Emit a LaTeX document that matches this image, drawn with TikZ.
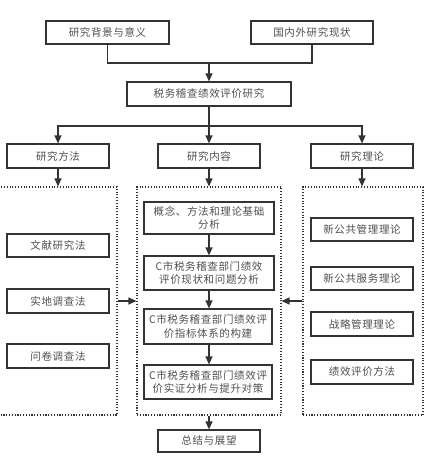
\documentclass[tikz,border=0pt]{standalone}
\usepackage{fontspec}
\setmainfont[LetterSpace=6]{Noto Sans CJK SC}
\usetikzlibrary{arrows.meta}
\definecolor{ln}{HTML}{333333}
\definecolor{tx}{HTML}{505050}
\tikzset{
  box/.style={draw=ln, line width=1.2pt, fill=white, text=tx, inner sep=0pt, align=center,
    font=\fontsize{10.5}{13.5}\selectfont},
  panel/.style={draw=ln, line width=1.1pt, dash pattern=on 1.1pt off 1.7pt, inner sep=0pt},
  link/.style={draw=ln, line width=1.2pt},
  arr/.style={link, -{Triangle[length=8pt,width=7pt]}}
}
\begin{document}
\begin{tikzpicture}[x=1pt,y=-1pt]
\useasboundingbox[fill=white] (0,0) rectangle (438,468);
% top
\node[box, minimum width=123pt, minimum height=23pt] (bg) at (107.5,32.5) {研究背景与意义};
\node[box, minimum width=122pt, minimum height=23pt] (gn) at (312,32.5) {国内外研究现状};
\node[box, minimum width=164pt, minimum height=24pt] (main) at (209,94) {税务稽查绩效评价研究};
\coordinate (j1) at (209,63);
\draw[link] (bg.south) |- (j1) -| (gn.south);
\draw[arr] (j1) -- (main.north);
% second row
\node[box, minimum width=102pt, minimum height=24pt] (ff) at (58,156) {研究方法};
\node[box, minimum width=102pt, minimum height=24pt] (nr) at (209,156) {研究内容};
\node[box, minimum width=102pt, minimum height=24pt] (ll) at (362,156) {研究理论};
\coordinate (j2) at (209,126);
\draw[link] (main.south) -- (j2);
\draw[arr] (j2) -| (ff.north);
\draw[arr] (j2) -| (ll.north);
\draw[arr] (j2) -- (nr.north);
% panels
\node[panel, minimum width=122pt, minimum height=228pt] (lp) at (56,301) {};
\node[panel, minimum width=144pt, minimum height=228pt] (mp) at (209,301) {};
\node[panel, minimum width=120pt, minimum height=228pt] (rp) at (363,301) {};
\draw[arr] (ff.south) -- (ff.south |- lp.north);
\draw[arr] (nr.south) -- (mp.north);
\draw[arr] (ll.south) -- (ll.south |- rp.north);
% left boxes
\node[box, minimum width=102pt, minimum height=23pt] (l1) at (58,245.5) {文献研究法};
\node[box, minimum width=102pt, minimum height=24pt] (l2) at (58,301) {实地调查法};
\node[box, minimum width=102pt, minimum height=24pt] (l3) at (58,356) {问卷调查法};
% middle boxes
\node[box, minimum width=130pt, minimum height=32pt] (m1) at (209,218) {概念、方法和理论基础\\分析};
\node[box, minimum width=130pt, minimum height=34pt] (m2) at (209,273) {C市税务稽查部门绩效\\评价现状和问题分析};
\node[box, minimum width=128pt, minimum height=35pt] (m3) at (208,326.5) {C市税务稽查部门绩效评\\价指标体系的构建};
\node[box, minimum width=128pt, minimum height=34pt] (m4) at (208,382) {C市税务稽查部门绩效评\\价实证分析与提升对策};
\draw[arr] (m1) -- (m2);
\draw[arr] (m2) -- (m3.north -| m2.south);
\draw[arr] (m3.south -| m2.south) -- (m4.north -| m2.south);
% right boxes
\node[box, minimum width=102pt, minimum height=23pt] (r1) at (362,229.5) {新公共管理理论};
\node[box, minimum width=102pt, minimum height=23pt] (r2) at (362,278.5) {新公共服务理论};
\node[box, minimum width=102pt, minimum height=24pt] (r3) at (362,324) {战略管理理论};
\node[box, minimum width=102pt, minimum height=24pt] (r4) at (362,372) {绩效评价方法};
% side arrows
\draw[arr] (lp.east) -- (mp.west);
\draw[arr] (rp.west) -- (mp.east);
% end
\node[box, minimum width=102pt, minimum height=22pt] (end) at (209,441) {总结与展望};
\draw[arr] (mp.south) -- (end.north);
\end{tikzpicture}
\end{document}
